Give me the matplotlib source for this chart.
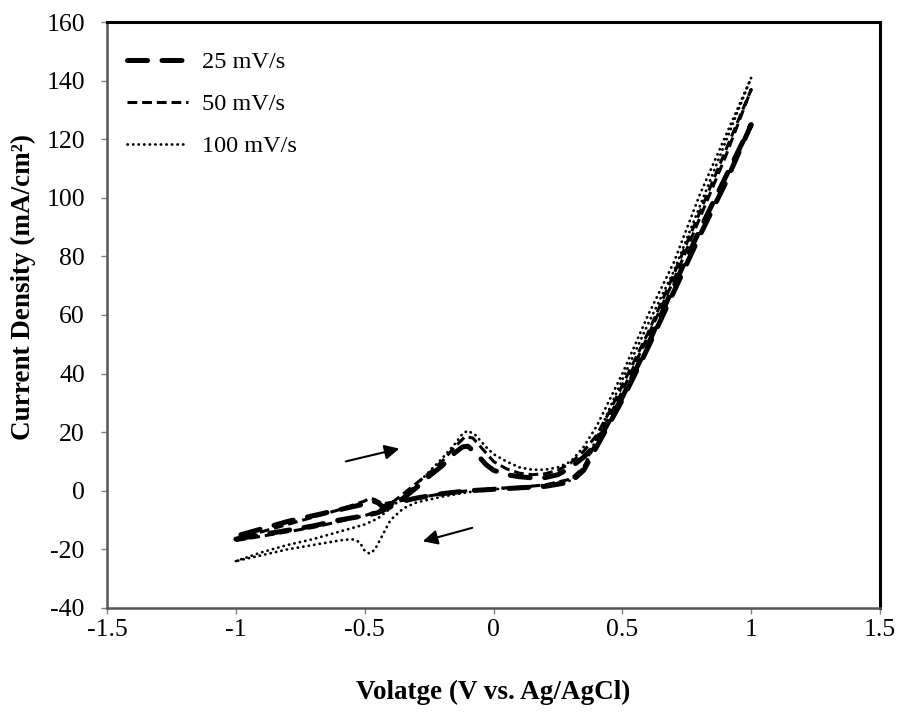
import matplotlib
matplotlib.use('Agg')
import matplotlib.pyplot as plt
import numpy as np


plt.rcParams['font.family'] = ['Liberation Serif', 'DejaVu Serif']
plt.rcParams['axes.unicode_minus'] = False

# 25 mV/s
v25_fwd = [-1.0, -0.9, -0.8, -0.7, -0.6, -0.5, -0.45, -0.4, -0.35, -0.3, -0.25, -0.2, -0.15,
           -0.12, -0.1, -0.07, -0.03, 0.0, 0.05, 0.1, 0.15, 0.2, 0.25, 0.3, 0.35, 0.4, 0.45,
           0.5, 0.6, 0.7, 0.8, 0.9, 1.0]
i25_fwd = [-16.5, -15, -13.5, -12, -10, -8.5, -7.5, -5.5, -2.5, 1, 5, 8.5, 13,
           15, 15.2, 13, 9, 7, 5.5, 4.8, 4.4, 4.5, 5.5, 8, 11.5, 16, 24,
           32, 50, 70, 89, 107, 125]
v25_rev = [1.0, 0.9, 0.8, 0.7, 0.6, 0.5, 0.4, 0.35, 0.3, 0.2, 0.1, 0.0, -0.1, -0.2, -0.3,
           -0.4, -0.43, -0.45, -0.47, -0.5, -0.6, -0.7, -0.8, -0.9, -1.0]
i25_rev = [125, 105, 87, 68, 49, 31, 15, 7, 3, 1.5, 1, 0.5, 0, -1, -2.5,
           -4.5, -5.5, -4, -3.5, -4.5, -6.5, -8.5, -10.5, -13, -15.5]

# 50 mV/s
v50_fwd = [-1.0, -0.9, -0.8, -0.7, -0.6, -0.5, -0.45, -0.4, -0.35, -0.3, -0.25, -0.2, -0.15,
           -0.11, -0.08, -0.05, 0.0, 0.05, 0.1, 0.15, 0.2, 0.25, 0.3, 0.35, 0.4, 0.45,
           0.5, 0.6, 0.7, 0.8, 0.9, 1.0]
i50_fwd = [-17, -15.5, -14, -12.5, -10.5, -8.5, -7, -4.5, -1, 2.5, 6, 10, 15,
           18.5, 18, 15, 10, 7.5, 6, 5.5, 5.8, 7, 9.5, 13.5, 19, 27,
           36, 54, 74, 95, 116, 137]
v50_rev = [1.0, 0.9, 0.8, 0.7, 0.6, 0.5, 0.4, 0.35, 0.3, 0.2, 0.1, 0.0, -0.1, -0.2, -0.3,
           -0.4, -0.43, -0.46, -0.48, -0.5, -0.6, -0.7, -0.8, -0.9, -1.0]
i50_rev = [137, 114, 93, 72, 53, 34, 17, 8, 4, 2, 1.2, 0.8, 0, -1, -2.5,
           -4, -4.5, -3, -2.5, -3.5, -6.5, -9, -11.5, -14, -16.5]

# 100 mV/s
v100_fwd = [-1.0, -0.9, -0.8, -0.7, -0.6, -0.5, -0.45, -0.4, -0.35, -0.3, -0.25, -0.2, -0.15,
            -0.12, -0.1, -0.07, -0.03, 0.0, 0.05, 0.1, 0.15, 0.2, 0.25, 0.3, 0.35, 0.4, 0.45,
            0.5, 0.6, 0.7, 0.8, 0.9, 1.0]
i100_fwd = [-24, -21, -18.5, -16.5, -14, -11.5, -9.5, -6, -2, 2, 6.5, 11, 16,
            19.5, 20.5, 19, 15, 12.5, 10, 8, 7.2, 7.2, 8, 10, 15, 22, 31,
            40, 60, 78, 101, 121, 141]
v100_rev = [1.0, 0.9, 0.8, 0.7, 0.6, 0.5, 0.4, 0.35, 0.3, 0.2, 0.1, 0.0, -0.1, -0.2, -0.3,
            -0.35, -0.4, -0.43, -0.46, -0.48, -0.5, -0.52, -0.55, -0.6, -0.7, -0.8, -0.9, -1.0]
i100_rev = [141, 119, 97, 75, 57, 38, 18, 8, 3.5, 2, 1.2, 0.5, -0.5, -2, -4,
            -6, -10, -15, -20, -21.5, -20.5, -17.5, -16.5, -17, -18.5, -20, -22, -24]

series = [
    ('25 mV/s', v25_fwd + v25_rev, i25_fwd + i25_rev, 3.6, (4.0, 2.9), 'round'),
    ('50 mV/s', v50_fwd + v50_rev, i50_fwd + i50_rev, 2.2, (3.2, 1.6), 'butt'),
    ('100 mV/s', v100_fwd + v100_rev, i100_fwd + i100_rev, 2.0, (0.1, 1.9), 'round'),
]


def main():
    fig = plt.figure(figsize=(8.98, 7.15), dpi=100)
    ax = fig.add_axes([0.1192, 0.1497, 0.8608, 0.8195])

    for label, v, i, lw, dashes, cap in series:
        ax.plot(v, i, color='black', lw=lw, dashes=dashes, dash_capstyle=cap,
                solid_capstyle=cap, label=label)

    ax.set_xlim(-1.5, 1.5)
    ax.set_ylim(-40, 160)
    ax.set_xticks(np.arange(-1.5, 1.51, 0.5))
    ax.set_xticklabels(['-1.5', '-1', '-0.5', '0', '0.5', '1', '1.5'])
    ax.set_yticks(np.arange(-40, 161, 20))
    ax.tick_params(direction='out', length=4, width=1, color='#808080', labelsize=18.5)
    ax.tick_params(axis='x', pad=4)
    ax.tick_params(axis='y', pad=12)

    for side in ['top', 'right']:
        ax.spines[side].set_color('black')
        ax.spines[side].set_linewidth(2.2)
    for side in ['left', 'bottom']:
        ax.spines[side].set_color('#555555')
        ax.spines[side].set_linewidth(1.8)

    ax.set_xlabel('Volatge (V vs. Ag/AgCl)', fontsize=19.5, fontweight='bold', labelpad=28)
    ax.set_ylabel('Current Density (mA/cm²)', fontsize=19.5, fontweight='bold')
    ax.yaxis.set_label_coords(-0.092, 0.548)

    # scan direction arrows
    ax.annotate('', xy=(-0.355, 14.6), xytext=(-0.584, 9.8),
                arrowprops=dict(arrowstyle='-|>', color='black', lw=1.5, mutation_scale=22))
    ax.annotate('', xy=(-0.285, -17.5), xytext=(-0.072, -12.4),
                arrowprops=dict(arrowstyle='-|>', color='black', lw=1.5, mutation_scale=22))

    ax.legend(loc='upper left', bbox_to_anchor=(0.013, 0.967), frameon=False,
              fontsize=17.5, handlelength=2.5, handletextpad=0.6, labelspacing=0.83,
              borderaxespad=0)

    fig.savefig('out.png', dpi=100)


if __name__ == "__main__":
    main()
